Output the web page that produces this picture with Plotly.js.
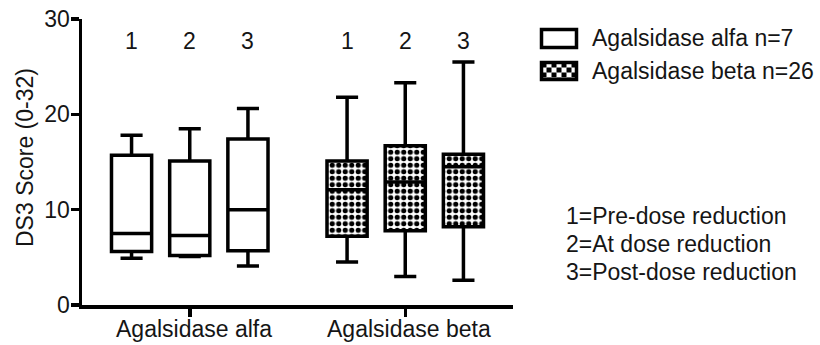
<!DOCTYPE html>
<html>
<head>
<meta charset="utf-8">
<script src="https://cdn.plot.ly/plotly-3.0.1.min.js"></script>
<style>
  html, body { margin: 0; padding: 0; background: #fff; }
  #chart { width: 820px; height: 345px; }
</style>
</head>
<body>
<div id="chart"></div>
<script>
// Treatment groups on the x axis
const groups = ['Agalsidase alfa', 'Agalsidase beta'];
const groupLegend = ['Agalsidase alfa n=7', 'Agalsidase beta n=26'];
// Time points: 1 = pre-dose reduction, 2 = at dose reduction, 3 = post-dose reduction
const timepoints = ['1', '2', '3'];
const timepointNotes = ['1=Pre-dose reduction', '2=At dose reduction', '3=Post-dose reduction'];
const yTitle = 'DS3 Score (0-32)';

// DS3 score box statistics per time point (min, Q1, median, Q3, max)
const alfaMin    = [4.9, 5.1, 4.1];
const alfaQ1     = [5.6, 5.2, 5.7];
const alfaMedian = [7.5, 7.3, 10.0];
const alfaQ3     = [15.7, 15.1, 17.4];
const alfaMax    = [17.8, 18.5, 20.6];

const betaMin    = [4.5, 3.0, 2.6];
const betaQ1     = [7.2, 7.8, 8.2];
const betaMedian = [12.1, 12.9, 14.5];
const betaQ3     = [15.1, 16.7, 15.8];
const betaMax    = [21.8, 23.3, 25.5];

const yTicks = [0, 10, 20, 30];

const W = 820, H = 345;
const M = { l: 82, r: 307, t: 19, b: 40 };
const plotW = W - M.l - M.r, plotH = H - M.t - M.b;
const px2x = x => (x - M.l) / plotW;
const px2y = y => (H - M.b - y) / plotH;

const FONT = 'Liberation Sans, Arial, sans-serif';
const INK = '#151515';
const FS = 23;
const LW = 3.5;

const BOXGAP = 0.19, BOXGROUPGAP = 0.31;

const traces = [];

// Checkered fill under the beta boxes (bars spanning Q1..Q3)
timepoints.forEach((t, i) => {
  traces.push({
    type: 'bar',
    x: [groups[1]],
    base: [betaQ1[i]],
    y: [betaQ3[i] - betaQ1[i]],
    offsetgroup: t,
    showlegend: false,
    hoverinfo: 'skip',
    marker: {
      color: '#ffffff',
      line: { width: 0 },
      pattern: { shape: '.', fgcolor: '#000000', bgcolor: '#ffffff', size: 6.5, solidity: 0.5, fillmode: 'replace' }
    }
  });
});

// Box-and-whisker outlines
function addBoxes(g, mins, q1, med, q3, maxs, fill) {
  timepoints.forEach((t, i) => {
    traces.push({
      type: 'box',
      x: [groups[g]],
      lowerfence: [mins[i]],
      q1: [q1[i]],
      median: [med[i]],
      q3: [q3[i]],
      upperfence: [maxs[i]],
      offsetgroup: t,
      boxpoints: false,
      whiskerwidth: 0.55,
      fillcolor: fill,
      line: { color: '#000000', width: LW },
      showlegend: false,
      hoverinfo: 'skip'
    });
  });
}
addBoxes(0, alfaMin, alfaQ1, alfaMedian, alfaQ3, alfaMax, '#ffffff');
addBoxes(1, betaMin, betaQ1, betaMedian, betaQ3, betaMax, 'rgba(0,0,0,0)');

const txt = { family: FONT, size: FS, color: INK };

// Time point numbers above each box
const slot = (1 - BOXGAP) / timepoints.length;
const annotations = [];
groups.forEach((g, gi) => {
  timepoints.forEach((t, i) => {
    annotations.push({
      x: gi + (i - 1) * slot, xref: 'x',
      y: 27.7, yref: 'y',
      text: t, showarrow: false, font: txt,
      xanchor: 'center', yanchor: 'middle'
    });
  });
  // group label under the x axis
  annotations.push({
    x: gi, xref: 'x', xshift: 4, y: px2y(329), yref: 'paper',
    text: g, showarrow: false, font: txt,
    xanchor: 'center', yanchor: 'middle'
  });
});

// Y axis title
annotations.push({
  x: px2x(25), xref: 'paper', y: px2y(158), yref: 'paper',
  text: yTitle, textangle: -90, showarrow: false, font: txt,
  xanchor: 'center', yanchor: 'middle'
});

// Legend text
const legendRows = [38, 71];
groupLegend.forEach((s, i) => {
  annotations.push({
    x: px2x(590), xref: 'paper', y: px2y(legendRows[i]), yref: 'paper',
    text: s, showarrow: false, xanchor: 'left', yanchor: 'middle', font: txt
  });
});

// Time point key
const noteRows = [216, 244, 272];
timepointNotes.forEach((s, i) => {
  annotations.push({
    x: px2x(564), xref: 'paper', y: px2y(noteRows[i]), yref: 'paper',
    text: s, showarrow: false, xanchor: 'left', yanchor: 'middle', font: txt
  });
});

// Legend swatches
const sw = { x0: 541.5, x1: 576.5 };
const swRows = [[29.5, 47.5], [62.5, 79.5]];
const shapes = swRows.map((r, i) => ({
  type: 'rect', xref: 'paper', yref: 'paper',
  x0: px2x(sw.x0), x1: px2x(sw.x1), y0: px2y(r[1]), y1: px2y(r[0]),
  line: { color: '#000000', width: LW },
  fillcolor: i === 0 ? '#ffffff' : 'rgba(0,0,0,0)',
  layer: 'above'
}));

// Checker tile for the beta swatch
function checkerSvg(w, h, c) {
  let rects = '';
  for (let yy = 0; yy < h; yy += c) {
    for (let xx = 0; xx < w; xx += c) {
      if (((xx / c) + (yy / c)) % 2 === 0) rects += `<rect x="${xx}" y="${yy}" width="${c}" height="${c}" fill="#000"/>`;
    }
  }
  const svg = `<svg xmlns="http://www.w3.org/2000/svg" width="${w}" height="${h}" viewBox="0 0 ${w} ${h}"><rect width="${w}" height="${h}" fill="#fff"/>${rects}</svg>`;
  return 'data:image/svg+xml;base64,' + btoa(svg);
}
const images = [{
  source: checkerSvg(35, 17, 5),
  xref: 'paper', yref: 'paper',
  x: px2x(sw.x0), y: px2y(swRows[1][0]),
  sizex: px2x(sw.x1) - px2x(sw.x0), sizey: px2y(swRows[1][0]) - px2y(swRows[1][1]),
  xanchor: 'left', yanchor: 'top', sizing: 'stretch', layer: 'above'
}];

const layout = {
  width: W, height: H,
  margin: M,
  paper_bgcolor: '#ffffff', plot_bgcolor: '#ffffff',
  font: txt,
  showlegend: false,
  barmode: 'group', bargap: BOXGAP, bargroupgap: BOXGROUPGAP,
  boxmode: 'group', boxgap: BOXGAP, boxgroupgap: BOXGROUPGAP,
  xaxis: {
    type: 'category', categoryorder: 'array', categoryarray: groups,
    range: [-0.5, 1.5], fixedrange: true,
    showline: true, linecolor: '#000000', linewidth: LW,
    ticks: 'outside', ticklen: 8, tickwidth: LW, tickcolor: '#000000',
    showgrid: false, zeroline: false, showticklabels: false
  },
  yaxis: {
    range: [0, 30], fixedrange: true,
    tickvals: yTicks, ticktext: yTicks.map(String),
    showline: true, linecolor: '#000000', linewidth: LW,
    ticks: 'outside', ticklen: 8, tickwidth: LW, tickcolor: '#000000',
    ticklabelstandoff: -4,
    showgrid: false, zeroline: false,
    tickfont: txt
  },
  annotations: annotations,
  shapes: shapes,
  images: images
};

Plotly.newPlot('chart', traces, layout, { staticPlot: true, displayModeBar: false });
</script>
</body>
</html>
